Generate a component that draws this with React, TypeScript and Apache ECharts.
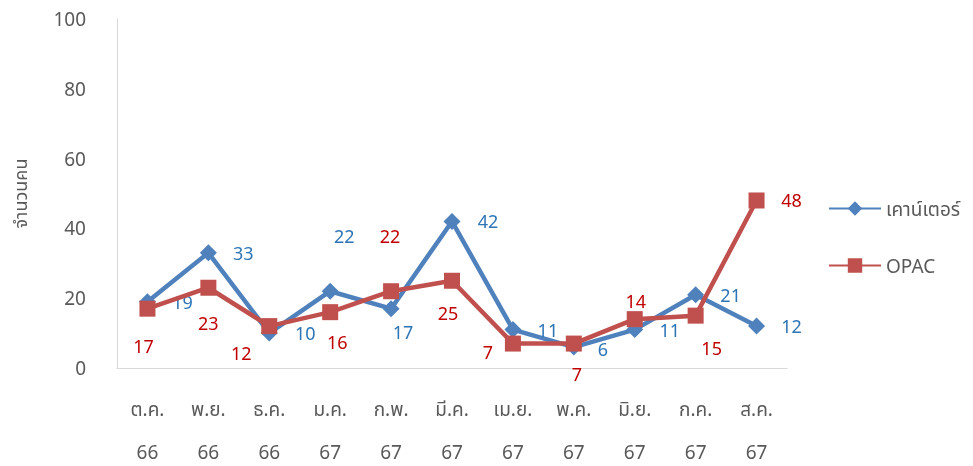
import React, { useEffect, useRef } from "react";
import * as echarts from "echarts";

const categories = ["ต.ค.\n66", "พ.ย.\n66", "ธ.ค.\n66", "ม.ค.\n67", "ก.พ.\n67", "มี.ค.\n67", "เม.ย.\n67", "พ.ค.\n67", "มิ.ย.\n67", "ก.ค.\n67", "ส.ค.\n67"];
const counterValues = [19, 33, 10, 22, 17, 42, 11, 6, 11, 21, 12];
const opacValues = [17, 23, 12, 16, 22, 25, 7, 7, 14, 15, 48];
const counterLabelOffsets: [number, number][] = [
  [35, 0], [35, 0], [36, 0], [14, -55], [12, 23], [36, 0], [35, 0], [29, 2], [35, 0], [35, 0], [35, 0],
];
const opacLabelOffsets: [number, number][] = [
  [-4, 37], [0, 35], [-28, 27], [7, 30], [-1, -55], [-4, 32], [-25, 8], [3, 30], [1, -18], [16, 32], [35, 0],
];
const seriesNames = ["เคาน์เตอร์", "OPAC"];

const FONT = "'Noto Sans', 'Noto Sans Thai', 'DejaVu Sans', sans-serif";

export default function App() {
  const ref = useRef<HTMLDivElement>(null);
  useEffect(() => {
    if (!ref.current) return;
    const chart = echarts.init(ref.current, undefined, { renderer: "svg" });
    const mk = (vals: number[], offs: [number, number][], color: string) =>
      vals.map((v, i) => ({
        value: v,
        label: {
          show: true,
          position: "inside",
          offset: offs[i],
          color,
          fontSize: 18,
          fontFamily: FONT,
        },
      }));
    chart.setOption({
      animation: false,
      grid: { left: 117, right: 186, top: 19, bottom: 98, outerBoundsMode: "none", containLabel: false },
      legend: {
        orient: "vertical",
        left: 828,
        top: 199,
        padding: 0,
        itemWidth: 52,
        itemHeight: 18,
        itemGap: 38,
        textStyle: { fontSize: 19, color: "#595959", fontFamily: FONT },
        data: seriesNames,
      },
      xAxis: {
        type: "category",
        data: categories,
        axisLine: { show: true, lineStyle: { color: "#D9D9D9", width: 1 } },
        axisTick: { show: false },
        axisLabel: {
          color: "#595959",
          fontSize: 19,
          lineHeight: 43,
          margin: 19,
          fontFamily: FONT,
          interval: 0,
        },
      },
      yAxis: {
        type: "value",
        min: 0,
        max: 100,
        interval: 20,
        name: "จำนวนคน",
        nameLocation: "middle",
        nameGap: 88,
        nameRotate: 90,
        nameTextStyle: { color: "#595959", fontSize: 18, fontFamily: FONT },
        axisLine: { show: true, lineStyle: { color: "#D9D9D9", width: 1 } },
        axisTick: { show: false },
        splitLine: { show: false },
        axisLabel: { color: "#595959", fontSize: 19, margin: 31, fontFamily: FONT },
      },
      series: [
        {
          name: seriesNames[0],
          type: "line",
          data: mk(counterValues, counterLabelOffsets, "#2E75B6"),
          symbol: "diamond",
          symbolSize: 17,
          lineStyle: { color: "#4F81BD", width: 4.5 },
          itemStyle: { color: "#4F81BD" },
          z: 2,
        },
        {
          name: seriesNames[1],
          type: "line",
          data: mk(opacValues, opacLabelOffsets, "#C00000"),
          symbol: "rect",
          symbolSize: 16,
          lineStyle: { color: "#C0504D", width: 4.5 },
          itemStyle: { color: "#C0504D" },
          z: 3,
        },
      ],
    });
    return () => chart.dispose();
  }, []);
  return <div ref={ref} style={{ position: "fixed", left: 0, top: 0, width: 973, height: 466 }} />;
}
